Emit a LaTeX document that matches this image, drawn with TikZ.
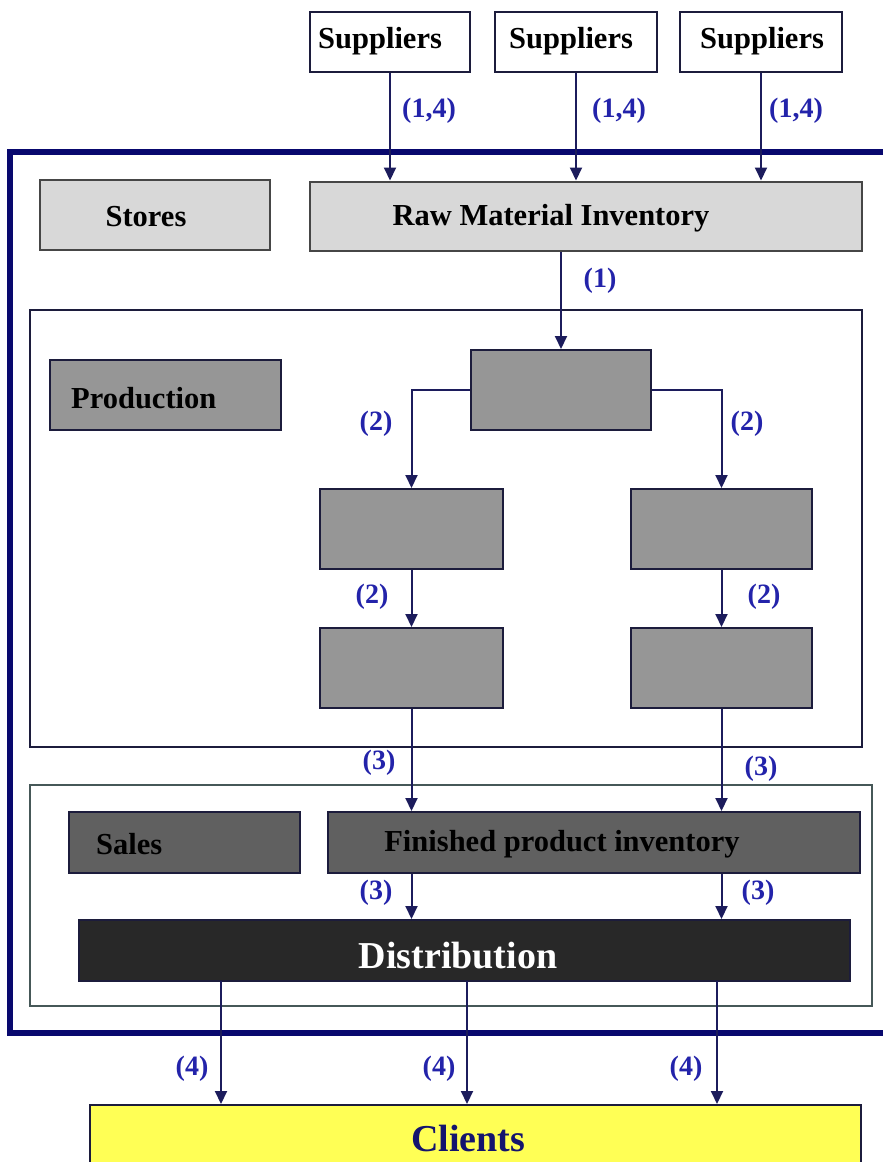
\documentclass[tikz,border=0pt]{standalone}
\usepackage{fontspec}
\setmainfont{Liberation Serif}
\usetikzlibrary{arrows.meta}

\definecolor{framenavy}{RGB}{8,8,110}
\definecolor{arrowblue}{RGB}{28,28,92}
\definecolor{labelblue}{RGB}{35,35,170}
\definecolor{lightfill}{RGB}{216,216,216}
\definecolor{lightedge}{RGB}{70,70,70}
\definecolor{midfill}{RGB}{150,150,150}
\definecolor{darkfill}{RGB}{96,96,96}
\definecolor{distfill}{RGB}{40,40,40}
\definecolor{boxedge}{RGB}{28,28,60}
\definecolor{salesedge}{RGB}{70,88,88}
\definecolor{clientfill}{RGB}{255,255,85}
\definecolor{clienttext}{RGB}{20,20,110}

\tikzset{
  boxtext/.style={font=\fontsize{30.5}{32}\selectfont\bfseries, inner sep=0pt},
  bigtext/.style={font=\fontsize{38}{40}\selectfont\bfseries, inner sep=0pt},
  flowlabel/.style={font=\fontsize{28}{30}\selectfont\bfseries, text=labelblue, inner sep=0pt},
  supplierbox/.style={draw=boxedge, line width=2pt, fill=white, minimum width=160, minimum height=60, inner sep=0pt},
  lightbox/.style={draw=lightedge, line width=2pt, fill=lightfill, inner sep=0pt},
  procbox/.style={draw=boxedge, line width=2pt, fill=midfill, inner sep=0pt},
  salesbox/.style={draw=boxedge, line width=2pt, fill=darkfill, inner sep=0pt},
  flowarrow/.style={draw=arrowblue, line width=2pt, -{Triangle[length=13pt,width=12pt]}},
}

\begin{document}
\begin{tikzpicture}[x=1pt,y=-1pt]
  \clip (0,0) rectangle (883,1162);
  \fill[white] (0,0) rectangle (883,1162);

  % suppliers
  \node[supplierbox] (s1) at (390,42) {};
  \node[supplierbox, minimum width=162] (s2) at (576,42) {};
  \node[supplierbox, minimum width=162] (s3) at (761,42) {};
  \node[boxtext, anchor=west] (s1t) at (318,41) {Suppliers};
  \node[boxtext, anchor=west] (s2t) at (509,41) {Suppliers};
  \node[boxtext, anchor=west] (s3t) at (700,41) {Suppliers};

  % company frame
  \draw[framenavy, line width=6pt] (900,152) -- (10,152) -- (10,1033) -- (900,1033);

  % stores level
  \node[lightbox, minimum width=230, minimum height=70] (stores) at (155,215) {};
  \node[boxtext] (storest) at (146,217) {Stores};
  \node[lightbox, minimum width=552, minimum height=69] (rmi) at (586,216) {};
  \node[boxtext] (rmit) at (551,218) {Raw Material Inventory};

  \draw[flowarrow] (s1.south) -- (s1.south |- rmi.north);
  \draw[flowarrow] (s2.south) -- (s2.south |- rmi.north);
  \draw[flowarrow] (s3.south) -- (s3.south |- rmi.north);
  \node[flowlabel] (l14a) at (429,111) {(1,4)};
  \node[flowlabel] (l14b) at (619,111) {(1,4)};
  \node[flowlabel] (l14c) at (796,111) {(1,4)};

  % production level
  \draw[boxedge, line width=2pt] (30,310) rectangle (862,747);
  \node[procbox, minimum width=231, minimum height=70] (prod) at (165.5,395) {};
  \node[boxtext, anchor=west] (prodt) at (71,398) {Production};

  \node[procbox, minimum width=180, minimum height=80] (p0) at (561,390) {};
  \node[procbox, minimum width=183, minimum height=80] (p1) at (411.5,529) {};
  \node[procbox, minimum width=181, minimum height=80] (p2) at (721.5,529) {};
  \node[procbox, minimum width=183, minimum height=80] (p3) at (411.5,668) {};
  \node[procbox, minimum width=181, minimum height=80] (p4) at (721.5,668) {};

  \draw[flowarrow] (rmi.south -| p0.north) -- (p0.north);
  \node[flowlabel] (l1) at (600,281) {(1)};
  \draw[flowarrow] (p0.west) -| (p1.north);
  \draw[flowarrow] (p0.east) -| (p2.north);
  \draw[flowarrow] (p1.south) -- (p3.north);
  \draw[flowarrow] (p2.south) -- (p4.north);
  \node[flowlabel] (l2a) at (376,424) {(2)};
  \node[flowlabel] (l2b) at (747,424) {(2)};
  \node[flowlabel] (l2c) at (372,597) {(2)};
  \node[flowlabel] (l2d) at (764,597) {(2)};

  % sales level
  \draw[salesedge, line width=2pt] (30,785) rectangle (872,1006);
  \node[salesbox, minimum width=231, minimum height=61] (sales) at (184.5,842.5) {};
  \node[boxtext, anchor=west] (salest) at (96,844) {Sales};
  \node[salesbox, minimum width=532, minimum height=61] (fpi) at (594,842.5) {};
  \node[boxtext] (fpit) at (562,844) {Finished product inventory};

  \draw[flowarrow] (p3.south) -- (p3.south |- fpi.north);
  \draw[flowarrow] (p4.south) -- (p4.south |- fpi.north);
  \node[flowlabel] (l3a) at (379,763) {(3)};
  \node[flowlabel] (l3b) at (761,769) {(3)};

  \node[draw=boxedge, line width=2pt, fill=distfill, minimum width=771, minimum height=61, inner sep=0pt] (dist) at (464.5,950.5) {};
  \node[bigtext, text=white] (distt) at (458,956) {Distribution};

  \draw[flowarrow] (fpi.south -| p3.south) -- (p3.south |- dist.north);
  \draw[flowarrow] (fpi.south -| p4.south) -- (p4.south |- dist.north);
  \node[flowlabel] (l3c) at (376,893) {(3)};
  \node[flowlabel] (l3d) at (758,893) {(3)};

  % clients
  \node[draw=boxedge, line width=2pt, fill=clientfill, minimum width=771, minimum height=70, inner sep=0pt] (clients) at (475.5,1140) {};
  \node[bigtext, text=clienttext] (clientst) at (468,1138) {Clients};

  \coordinate (d1) at (221,981);
  \coordinate (d2) at (467,981);
  \coordinate (d3) at (717,981);
  \draw[flowarrow] (d1) -- (d1 |- clients.north);
  \draw[flowarrow] (d2) -- (d2 |- clients.north);
  \draw[flowarrow] (d3) -- (d3 |- clients.north);
  \node[flowlabel] (l4a) at (192,1069) {(4)};
  \node[flowlabel] (l4b) at (439,1069) {(4)};
  \node[flowlabel] (l4c) at (686,1069) {(4)};
\end{tikzpicture}
\end{document}
